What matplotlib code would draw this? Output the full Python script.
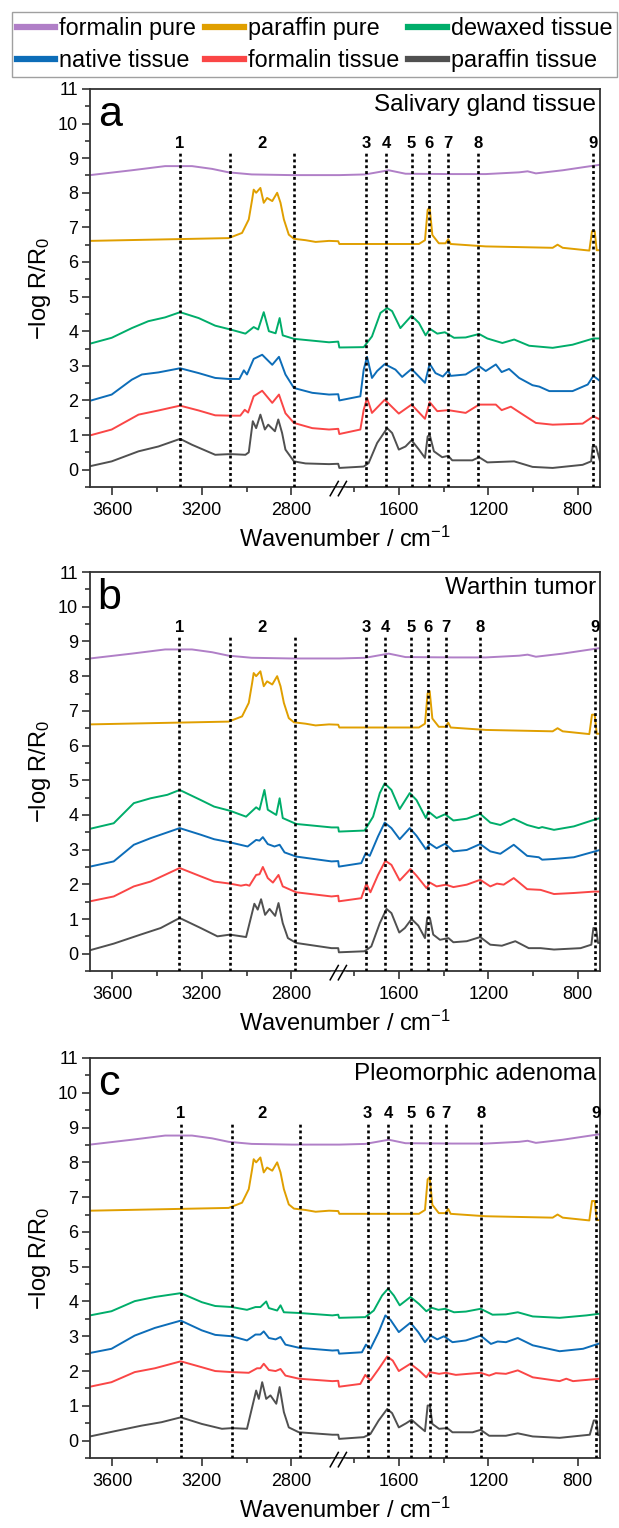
import numpy as np
import matplotlib
matplotlib.use('Agg')
import matplotlib.pyplot as plt
from matplotlib.lines import Line2D

plt.rcParams['font.family'] = ['Liberation Sans', 'DejaVu Sans']
plt.rcParams['mathtext.fontset'] = 'custom'
plt.rcParams['mathtext.rm'] = 'Liberation Sans'
plt.rcParams['mathtext.it'] = 'Liberation Sans:italic'

# ---------------- data (wavenumber / cm-1, -log R/R0 with offsets) ----------------
# pure references (same in all panels)
formalin_pure_wn = [3700, 3513, 3364, 3244, 3154, 3080, 2977, 2798, 2590,
                    1866, 1750, 1645, 1570, 1361, 1211, 1062, 1024, 987, 867, 700]
formalin_pure_val = [8.51, 8.65, 8.77, 8.77, 8.69, 8.59, 8.53, 8.51, 8.51,
                     8.51, 8.53, 8.65, 8.55, 8.54, 8.54, 8.59, 8.62, 8.56, 8.65, 8.81]

paraffin_pure_wn = [3700, 3080, 3020, 2990, 2975, 2968, 2957, 2938, 2923, 2908, 2885, 2863,
                    2848, 2833, 2811, 2788, 2736, 2691, 2631, 2590,
                    1866, 1510, 1483, 1471, 1462, 1450, 1421, 1391, 1379, 1368, 1211, 912,
                    890, 867, 748, 736, 724, 715, 700]
paraffin_pure_val = [6.61, 6.69, 6.84, 7.23, 7.80, 8.09, 8.00, 8.14, 7.71, 7.85, 7.76, 8.00,
                     7.71, 7.23, 6.79, 6.67, 6.63, 6.58, 6.61, 6.60,
                     6.52, 6.52, 6.63, 7.51, 7.57, 6.78, 6.54, 6.54, 6.66, 6.52, 6.45, 6.41,
                     6.50, 6.41, 6.33, 6.89, 6.89, 6.34, 6.34]

# panel a - salivary gland tissue
a_dewaxed_wn = [3700, 3603, 3513, 3439, 3364, 3297, 3214, 3140, 3072, 3005, 2968, 2948, 2923,
                2900, 2870, 2852, 2838, 2788, 2631, 2590,
                1866, 1757, 1720, 1682, 1652, 1630, 1593, 1543, 1510, 1480, 1461, 1428, 1394,
                1353, 1301, 1241, 1204, 1137, 1084, 1017, 912, 823, 730, 700]
a_dewaxed_val = [3.64, 3.81, 4.09, 4.29, 4.40, 4.55, 4.38, 4.16, 4.05, 3.93, 4.12, 4.05, 4.55,
                 4.00, 3.94, 4.38, 3.88, 3.78, 3.68, 3.70,
                 3.53, 3.54, 3.85, 4.53, 4.67, 4.58, 4.09, 4.45, 4.24, 3.88, 4.07, 3.93, 3.97,
                 3.81, 3.82, 3.92, 3.79, 3.66, 3.76, 3.58, 3.52, 3.61, 3.79, 3.79]
a_native_wn = [3700, 3603, 3513, 3468, 3394, 3297, 3214, 3140, 3080, 3032, 3012, 2998, 2968,
               2930, 2885, 2855, 2826, 2788, 2706, 2631, 2590,
               1866, 1772, 1757, 1742, 1720, 1697, 1663, 1615, 1585, 1543, 1483, 1462, 1436,
               1403, 1379, 1368, 1301, 1241, 1211, 1166, 1140, 1107, 1062, 1002, 972, 927,
               823, 755, 730, 700]
a_native_val = [1.99, 2.17, 2.60, 2.75, 2.81, 2.93, 2.79, 2.65, 2.62, 2.62, 2.87, 2.75, 3.20,
                3.32, 3.03, 3.26, 2.75, 2.36, 2.22, 2.17, 2.18,
                2.00, 2.12, 2.89, 3.26, 2.65, 2.85, 3.05, 2.89, 2.68, 2.91, 2.51, 3.06, 2.79,
                2.69, 2.86, 2.71, 2.75, 2.99, 2.85, 3.04, 2.82, 2.91, 2.65, 2.44, 2.40, 2.27,
                2.27, 2.46, 2.71, 2.56]
a_formalin_wn = [3700, 3603, 3483, 3394, 3297, 3214, 3140, 3072, 3028, 3008, 2993, 2968, 2930,
                 2885, 2855, 2826, 2788, 2706, 2631, 2590,
                 1866, 1772, 1757, 1742, 1720, 1663, 1600, 1543, 1483, 1462, 1428, 1379, 1301,
                 1241, 1166, 1140, 1099, 1047, 987, 912, 778, 730, 700]
a_formalin_val = [0.99, 1.16, 1.59, 1.71, 1.85, 1.71, 1.57, 1.56, 1.56, 1.73, 1.65, 2.12, 2.28,
                  1.93, 2.17, 1.63, 1.35, 1.20, 1.16, 1.18,
                  1.03, 1.16, 1.73, 2.07, 1.64, 2.02, 1.62, 1.88, 1.47, 1.95, 1.69, 1.72, 1.64,
                  1.88, 1.88, 1.72, 1.82, 1.60, 1.35, 1.30, 1.33, 1.54, 1.45]
a_paraffin_wn = [3700, 3603, 3483, 3394, 3297, 3244, 3140, 3072, 3005, 2990, 2972, 2957, 2938,
                 2918, 2903, 2873, 2858, 2841, 2826, 2788, 2736, 2631, 2590,
                 1866, 1757, 1735, 1697, 1652, 1630, 1600, 1570, 1543, 1510, 1483, 1471, 1462,
                 1443, 1406, 1379, 1361, 1271, 1241, 1204, 1084, 1002, 912, 778, 740, 733,
                 718, 700]
a_paraffin_val = [0.10, 0.24, 0.53, 0.67, 0.89, 0.72, 0.43, 0.45, 0.43, 0.50, 1.40, 1.20, 1.59,
                  1.16, 1.30, 1.11, 1.45, 1.06, 0.58, 0.24, 0.18, 0.16, 0.17,
                  0.05, 0.09, 0.19, 0.77, 1.20, 1.06, 0.58, 0.67, 0.85, 0.58, 0.34, 0.96, 1.01,
                  0.53, 0.36, 0.40, 0.27, 0.27, 0.36, 0.21, 0.24, 0.08, 0.05, 0.14, 0.24, 0.67,
                  0.67, 0.24]

# panel b - Warthin tumor
b_dewaxed_wn = [3700, 3594, 3504, 3429, 3354, 3299, 3205, 3145, 3074, 3002, 2957, 2942, 2920,
                2905, 2867, 2852, 2838, 2778, 2620, 2590,
                1868, 1753, 1715, 1685, 1663, 1633, 1596, 1551, 1521, 1479, 1468, 1431, 1393,
                1356, 1296, 1236, 1191, 1146, 1086, 1026, 974, 959, 906, 817, 727, 700]
b_dewaxed_val = [3.60, 3.76, 4.34, 4.48, 4.58, 4.72, 4.43, 4.24, 4.12, 3.95, 4.22, 4.15, 4.72,
                 4.15, 4.00, 4.48, 3.91, 3.74, 3.64, 3.64,
                 3.52, 3.55, 3.95, 4.63, 4.91, 4.72, 4.17, 4.63, 4.43, 3.91, 4.10, 3.91, 4.02,
                 3.84, 3.89, 4.03, 3.78, 3.71, 3.89, 3.71, 3.62, 3.65, 3.57, 3.67, 3.86, 3.91]
b_native_wn = [3700, 3594, 3504, 3429, 3299, 3205, 3145, 3074, 2995, 2957, 2942, 2927, 2905,
               2875, 2852, 2830, 2778, 2620, 2590,
               1868, 1768, 1748, 1730, 1693, 1663, 1633, 1596, 1551, 1521, 1479, 1461, 1431,
               1393, 1356, 1296, 1236, 1191, 1146, 1086, 1026, 974, 959, 906, 817, 700]
b_native_val = [2.51, 2.66, 3.14, 3.33, 3.62, 3.43, 3.30, 3.21, 3.09, 3.28, 3.26, 3.36, 3.16,
                3.09, 3.14, 2.92, 2.80, 2.66, 2.67,
                2.51, 2.61, 2.90, 2.82, 3.38, 3.78, 3.62, 3.30, 3.62, 3.40, 3.01, 3.17, 3.04,
                3.17, 2.95, 2.99, 3.16, 2.95, 2.88, 3.14, 2.82, 2.78, 2.71, 2.73, 2.78, 2.99]
b_formalin_wn = [3700, 3594, 3504, 3429, 3299, 3205, 3145, 3074, 3025, 3002, 2987, 2957, 2942,
                 2927, 2905, 2882, 2857, 2838, 2778, 2620, 2590,
                 1868, 1768, 1745, 1727, 1693, 1660, 1633, 1596, 1548, 1521, 1476, 1461, 1431,
                 1389, 1356, 1296, 1236, 1191, 1161, 1131, 1086, 1026, 966, 906, 817, 727, 700]
b_formalin_val = [1.51, 1.65, 1.94, 2.08, 2.47, 2.23, 2.08, 2.02, 1.96, 1.99, 1.96, 2.27, 2.29,
                  2.50, 2.18, 2.05, 2.27, 1.94, 1.77, 1.65, 1.67,
                  1.51, 1.60, 2.02, 1.77, 2.27, 2.68, 2.56, 2.11, 2.44, 2.25, 1.89, 2.05, 1.94,
                  1.99, 1.92, 1.99, 2.13, 1.94, 2.02, 1.99, 2.18, 1.86, 1.84, 1.72, 1.75, 1.79,
                  1.79]
b_paraffin_wn = [3700, 3594, 3474, 3384, 3299, 3205, 3130, 3074, 3002, 2965, 2950, 2935, 2917,
                 2897, 2872, 2857, 2838, 2815, 2778, 2620, 2590,
                 1868, 1753, 1723, 1685, 1655, 1633, 1598, 1573, 1543, 1513, 1483, 1473, 1461,
                 1446, 1416, 1378, 1356, 1296, 1236, 1191, 1139, 1079, 1019, 966, 906, 787,
                 739, 730, 718, 709, 700]
b_paraffin_val = [0.10, 0.29, 0.55, 0.74, 1.03, 0.74, 0.50, 0.55, 0.48, 1.44, 1.27, 1.57, 1.12,
                  1.29, 1.09, 1.46, 0.88, 0.45, 0.31, 0.16, 0.16,
                  0.04, 0.07, 0.21, 0.88, 1.29, 1.17, 0.61, 0.74, 1.00, 0.81, 0.45, 1.03, 1.03,
                  0.55, 0.40, 0.45, 0.33, 0.36, 0.48, 0.26, 0.23, 0.36, 0.16, 0.16, 0.12, 0.16,
                  0.26, 0.74, 0.74, 0.31, 0.31]

# panel c - pleomorphic adenoma
c_dewaxed_wn = [3700, 3604, 3500, 3410, 3294, 3200, 3140, 3065, 2998, 2960, 2938, 2912, 2900,
                2863, 2848, 2833, 2766, 2616, 2590,
                1867, 1750, 1712, 1675, 1648, 1622, 1596, 1548, 1510, 1477, 1453, 1423, 1393,
                1353, 1300, 1234, 1181, 1121, 1068, 1001, 881, 761, 700]
c_dewaxed_val = [3.60, 3.72, 4.01, 4.13, 4.24, 3.98, 3.87, 3.84, 3.76, 3.84, 3.84, 4.00, 3.81,
                 3.74, 3.89, 3.69, 3.67, 3.60, 3.62,
                 3.53, 3.55, 3.74, 4.17, 4.37, 4.17, 3.89, 4.13, 3.93, 3.72, 3.82, 3.76, 3.79,
                 3.69, 3.71, 3.79, 3.62, 3.63, 3.69, 3.57, 3.53, 3.60, 3.65]
c_native_wn = [3700, 3604, 3500, 3410, 3294, 3200, 3140, 3065, 2998, 2960, 2938, 2923, 2900,
               2870, 2848, 2826, 2766, 2616, 2590,
               1867, 1765, 1747, 1727, 1690, 1660, 1637, 1600, 1548, 1513, 1483, 1458, 1428,
               1398, 1360, 1300, 1234, 1188, 1158, 1121, 1068, 1001, 881, 776, 700]
c_native_val = [2.52, 2.64, 3.02, 3.24, 3.45, 3.17, 3.04, 3.00, 2.88, 3.05, 3.05, 3.14, 2.95,
                2.91, 2.98, 2.76, 2.67, 2.59, 2.60,
                2.50, 2.54, 2.76, 2.64, 3.12, 3.60, 3.47, 3.12, 3.39, 3.12, 2.83, 3.02, 2.91,
                3.00, 2.83, 2.88, 3.02, 2.78, 2.85, 2.83, 2.95, 2.74, 2.57, 2.64, 2.80]
c_formalin_wn = [3700, 3604, 3500, 3410, 3294, 3200, 3140, 3065, 2990, 2953, 2938, 2923, 2900,
                 2870, 2848, 2826, 2766, 2616, 2590,
                 1867, 1772, 1750, 1727, 1690, 1652, 1627, 1600, 1548, 1510, 1477, 1461, 1420,
                 1390, 1345, 1234, 1196, 1166, 1121, 1068, 1001, 881, 851, 821, 700]
c_formalin_val = [1.55, 1.68, 1.97, 2.08, 2.28, 2.11, 2.00, 1.97, 1.95, 2.08, 2.08, 2.21, 2.03,
                  2.00, 2.06, 1.87, 1.78, 1.71, 1.72,
                  1.55, 1.63, 1.89, 1.73, 2.06, 2.42, 2.30, 2.00, 2.21, 2.02, 1.82, 1.97, 1.92,
                  1.95, 1.89, 1.95, 1.87, 1.94, 1.92, 2.02, 1.82, 1.71, 1.78, 1.71, 1.78]
c_paraffin_wn = [3700, 3590, 3470, 3380, 3294, 3200, 3110, 3065, 2998, 2957, 2945, 2930, 2912,
                 2893, 2867, 2852, 2833, 2811, 2766, 2616, 2590,
                 1867, 1757, 1727, 1690, 1652, 1630, 1600, 1567, 1543, 1513, 1483, 1471, 1461,
                 1450, 1420, 1383, 1360, 1270, 1234, 1196, 1121, 1068, 1001, 881, 746, 728,
                 716, 709, 700]
c_paraffin_val = [0.12, 0.27, 0.43, 0.53, 0.67, 0.48, 0.34, 0.36, 0.34, 1.44, 1.20, 1.68, 1.20,
                  1.30, 1.06, 1.54, 0.82, 0.38, 0.24, 0.17, 0.17,
                  0.05, 0.10, 0.19, 0.58, 0.91, 0.79, 0.38, 0.50, 0.60, 0.43, 0.27, 1.01, 1.01,
                  0.48, 0.34, 0.36, 0.24, 0.24, 0.31, 0.14, 0.14, 0.21, 0.12, 0.08, 0.17, 0.58,
                  0.58, 0.16, 0.16]

# band positions (dotted lines), per panel
a_bands = [3297, 3073, 2788, 1747, 1657, 1543, 1465, 1380, 1245, 730]
b_bands = [3300, 3074, 2782, 1745, 1660, 1546, 1468, 1389, 1236, 722]
c_bands = [3294, 3065, 2762, 1739, 1648, 1545, 1462, 1389, 1234, 719]
band_labels = ['1', '', '', '3', '4', '5', '6', '7', '8', '9']
label2_pos = 2930

panel_letters = ['a', 'b', 'c']
panel_titles = ['Salivary gland tissue', 'Warthin tumor', 'Pleomorphic adenoma']

series_names = ['formalin pure', 'paraffin pure', 'dewaxed tissue',
                'native tissue', 'formalin tissue', 'paraffin tissue']
series_colors = ['#b07fc7', '#e09f00', '#00ad6a', '#0d6db8', '#fa4646', '#505050']

panels = [
    [(formalin_pure_wn, formalin_pure_val), (paraffin_pure_wn, paraffin_pure_val),
     (a_dewaxed_wn, a_dewaxed_val), (a_native_wn, a_native_val),
     (a_formalin_wn, a_formalin_val), (a_paraffin_wn, a_paraffin_val)],
    [(formalin_pure_wn, formalin_pure_val), (paraffin_pure_wn, paraffin_pure_val),
     (b_dewaxed_wn, b_dewaxed_val), (b_native_wn, b_native_val),
     (b_formalin_wn, b_formalin_val), (b_paraffin_wn, b_paraffin_val)],
    [(formalin_pure_wn, formalin_pure_val), (paraffin_pure_wn, paraffin_pure_val),
     (c_dewaxed_wn, c_dewaxed_val), (c_native_wn, c_native_val),
     (c_formalin_wn, c_formalin_val), (c_paraffin_wn, c_paraffin_val)],
]
bands = [a_bands, b_bands, c_bands]

# broken x axis: 3700-2590 and 1870-700 cm-1 (increasing map, axis inverted by xlim)
WP = [0, 700, 1870, 2590, 3700, 5000]
VP = [-2981, -2281, -1111, -1110, 0, 1300]


def fwd(w):
    return np.interp(np.asarray(w, dtype=float), WP, VP)


def inv(v):
    return np.interp(np.asarray(v, dtype=float), VP, WP)


fig = plt.figure(figsize=(6.19, 15.28), dpi=100)

boxes = [(0.6813, 0.2605), (0.3645, 0.2611), (0.0458, 0.2618)]
spine_col = '#333333'

for i in range(3):
    bottom, height = boxes[i]
    ax = fig.add_axes([0.1454, bottom, 0.824, height])
    ax.set_xscale('function', functions=(fwd, inv))

    for (wn, val), col in zip(panels[i], series_colors):
        ax.plot(wn, val, color=col, lw=1.4, solid_joinstyle='round', zorder=2)

    ax.vlines(bands[i], -0.5, 9.15, colors='black', linestyles=(0, (1.1, 1.1)),
              lw=1.9, zorder=3)
    for w, lab in zip(bands[i], band_labels):
        if lab:
            ax.text(w, 9.2, lab, ha='center', va='bottom', fontsize=12,
                    fontweight='bold')
    ax.text(label2_pos, 9.2, '2', ha='center', va='bottom', fontsize=12,
            fontweight='bold')

    ax.set_xlim(3700, 700)
    ax.set_ylim(-0.5, 11)
    ax.set_xticks([3600, 3200, 2800, 1600, 1200, 800])
    ax.set_xticklabels(['3600', '3200', '2800', '1600', '1200', '800'])
    ax.set_xticks([3400, 3000, 1800, 1400, 1000], minor=True)
    ax.set_yticks(range(0, 12))
    ax.set_yticks(np.arange(-0.5, 11, 0.5), minor=True)

    ax.tick_params(which='both', direction='out', top=False, right=False,
                   color=spine_col, width=1.2, labelsize=13)
    ax.tick_params(axis='x', pad=5)
    ax.tick_params(axis='y', pad=2.5)
    ax.tick_params(which='major', length=6)
    ax.tick_params(which='minor', length=3.5)
    for s in ax.spines.values():
        s.set_linewidth(1.3)
        s.set_color(spine_col)

    # axis break marks
    tr = ax.transAxes
    bx = (1110 + 0.5) / 2281
    ax.plot([bx - 0.012, bx + 0.012], [-0.004, -0.004], color='white', lw=2.5,
            transform=tr, clip_on=False, zorder=5)
    for dx in (-0.008, 0.008):
        ax.plot([bx + dx - 0.008, bx + dx + 0.008], [-0.022, 0.014], color='black',
                lw=1.1, transform=tr, clip_on=False, zorder=6)

    ax.text(0.015, 0.985, panel_letters[i], transform=tr, ha='left', va='top',
            fontsize=31)
    ax.text(0.993, 0.988, panel_titles[i], transform=tr, ha='right', va='top',
            fontsize=17.5)

    ax.set_xlabel('Wavenumber / cm$^{-1}$', fontsize=17)
    ax.xaxis.set_label_coords(0.5, -0.1)
    ax.set_ylabel('\u2212log R/R$_0$', fontsize=17)
    ax.yaxis.set_label_coords(-0.072, 0.5)

handles = [Line2D([], [], color=c, lw=4.5) for c in series_colors]
order = [0, 3, 1, 4, 2, 5]
fig.legend([handles[k] for k in order], [series_names[k] for k in order],
           ncol=3, loc='upper left', bbox_to_anchor=(12 / 619, 1 - 12 / 1528),
           frameon=True, fancybox=False, edgecolor='#888888', fontsize=16.8,
           handlelength=1.65, handletextpad=0.17, columnspacing=0.4,
           borderaxespad=0, borderpad=0.2, labelspacing=0.4)

fig.savefig('out.png', dpi=100)
